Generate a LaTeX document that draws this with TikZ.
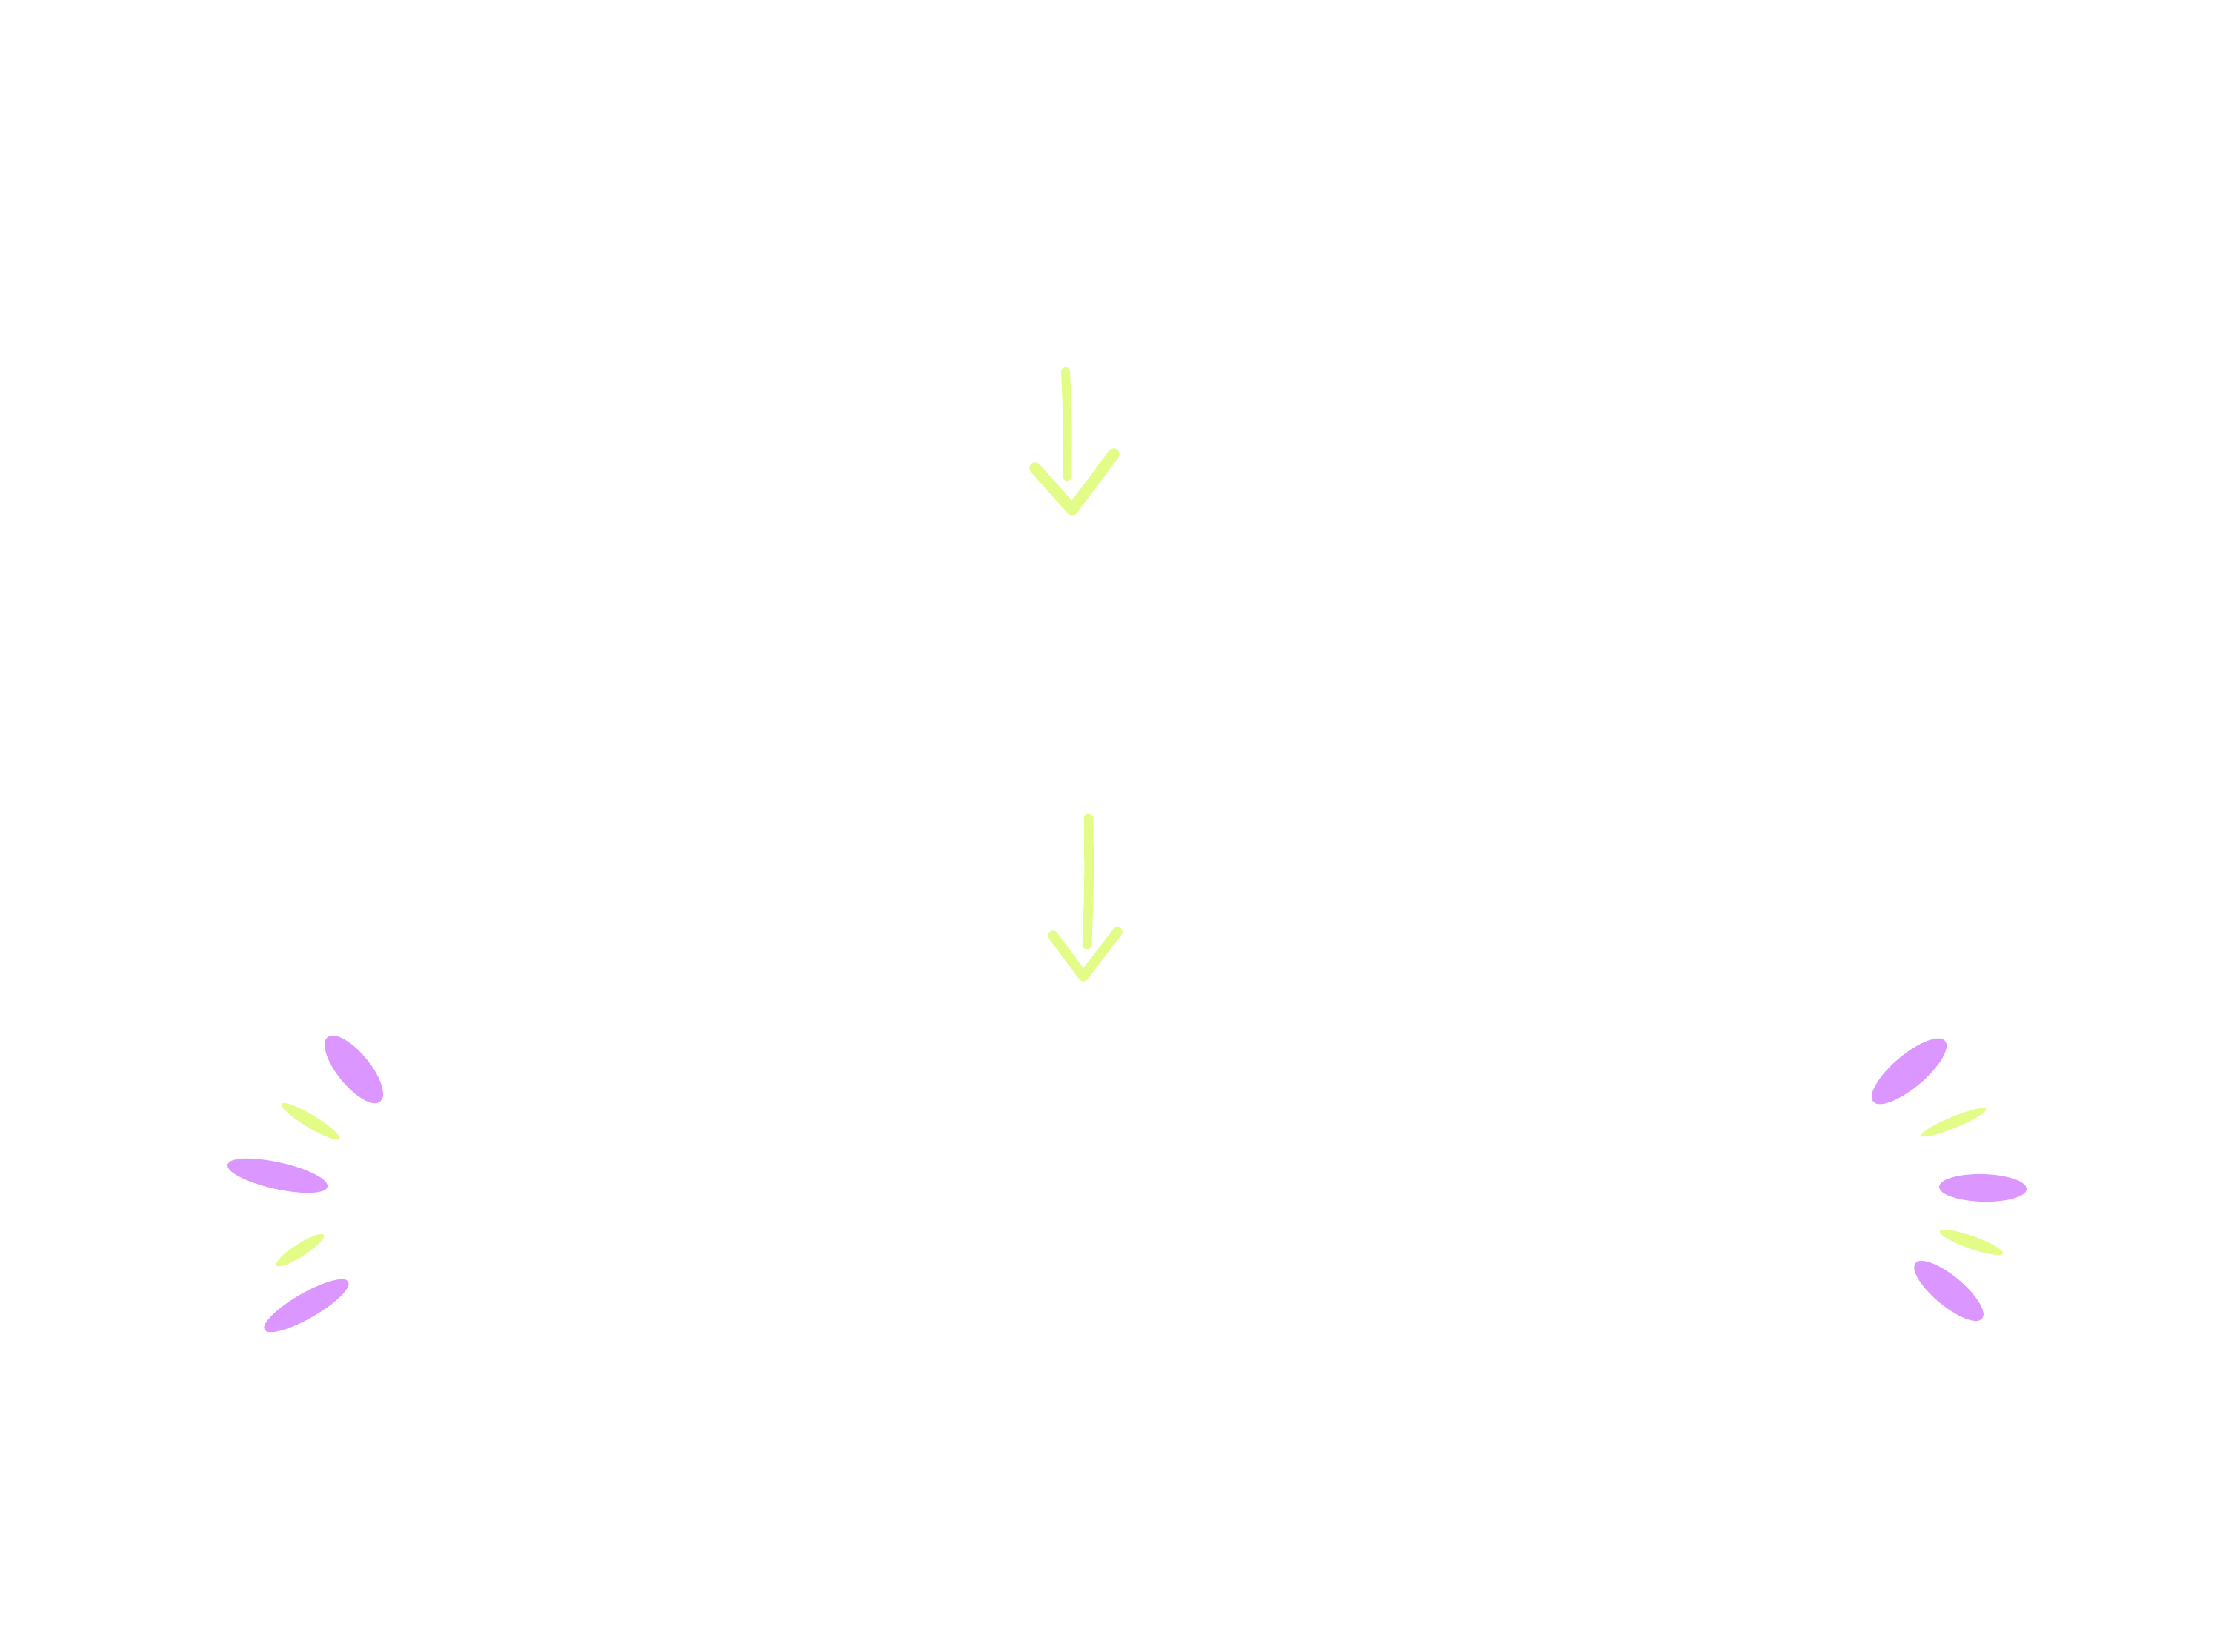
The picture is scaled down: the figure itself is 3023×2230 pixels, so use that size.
\documentclass[tikz,border=0pt]{standalone}
\usepackage{tikz}
\usetikzlibrary{calc}
\definecolor{lilac}{RGB}{220,150,255}
\definecolor{lime}{RGB}{226,252,135}
% an oval spark from #2 to #3, half thickness #4
\newcommand{\leaf}[4]{%
  \fill[#1] (#2) .. controls ($(#2)!#4*0.552!90:(#3)$) and ($(#2)!0.2239!(#3)!#4!90:(#3)$) .. ($(#2)!0.5!(#3)!#4!90:(#3)$)
    .. controls ($(#2)!0.7761!(#3)!#4!90:(#3)$) and ($(#3)!#4*0.552!-90:(#2)$) .. (#3)
    .. controls ($(#3)!#4*0.552!90:(#2)$) and ($(#2)!0.7761!(#3)!#4!-90:(#3)$) .. ($(#2)!0.5!(#3)!#4!-90:(#3)$)
    .. controls ($(#2)!0.2239!(#3)!#4!-90:(#3)$) and ($(#2)!#4*0.552!-90:(#3)$) .. cycle;}

\begin{document}
\begin{tikzpicture}[x=0.01cm,y=-0.01cm]
		\useasboundingbox[fill=white] (0,0) rectangle (3023,2230);
		% upper arrow
		\coordinate (top1) at (1438,502);
		\coordinate (end1) at (1440,643);
		\coordinate (tip1) at (1447,688);
		\draw[lime,line width=3.4pt,line cap=round] (top1) .. controls (1441,570) .. (end1);
		\draw[lime,line width=4.4pt,line cap=round,line join=round] (1397,632) -- (tip1) -- (1503,613);
		% lower arrow
		\coordinate (top2) at (1469,1105);
		\coordinate (end2) at (1467,1275);
		\coordinate (tip2) at (1462,1318);
		\draw[lime,line width=3.6pt,line cap=round] (top2) .. controls (1470,1190) .. (end2);
		\draw[lime,line width=3.8pt,line cap=round,line join=round] (1421,1263) -- (tip2) -- (1508,1258);
		% left sparks
		\leaf{lilac}{442,1400}{513,1487}{0.22cm}
		\leaf{lime}{380,1490}{458,1537}{0.085cm}
		\leaf{lilac}{307,1572}{442,1602}{0.18cm}
		\leaf{lime}{373,1708}{437,1667}{0.085cm}
		\leaf{lilac}{357,1795}{470,1730}{0.17cm}
		% right sparks
		\leaf{lilac}{2528,1487}{2625,1405}{0.22cm}
		\leaf{lime}{2593,1533}{2680,1497}{0.075cm}
		\leaf{lilac}{2617,1602}{2735,1605}{0.185cm}
		\leaf{lime}{2618,1662}{2703,1692}{0.085cm}
		\leaf{lilac}{2585,1705}{2675,1780}{0.2cm}
		\end{tikzpicture}
\end{document}
